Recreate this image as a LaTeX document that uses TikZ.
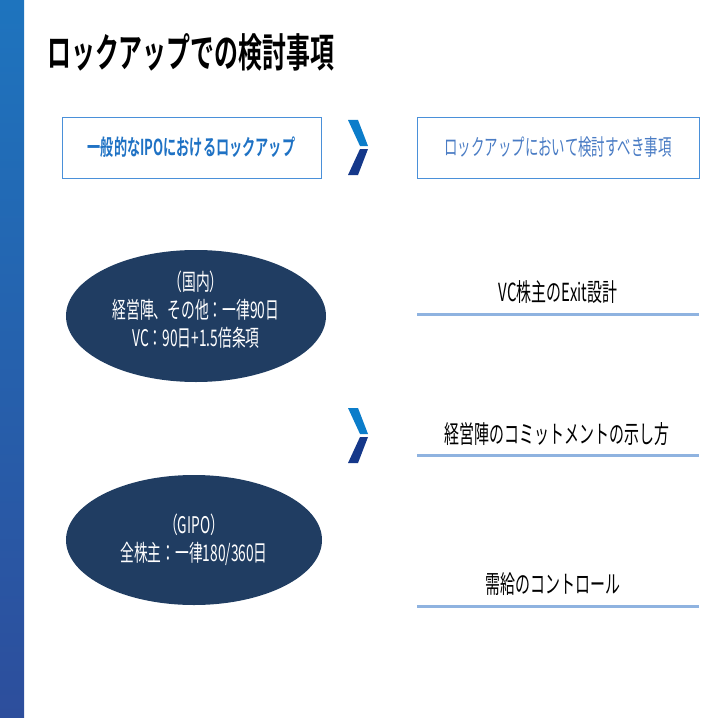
\documentclass[tikz,border=0pt]{standalone}
\usepackage{fontspec}
\usetikzlibrary{shapes.geometric}
\newfontfamily\jpfont[FakeStretch=0.6,BoldFont={Noto Sans CJK JP Bold}]{Noto Sans CJK JP}
\definecolor{bartop}{HTML}{1E74BE}
\definecolor{barbot}{HTML}{2D4E9C}
\definecolor{boxline}{HTML}{4A90D9}
\definecolor{headblue}{HTML}{1F72C4}
\definecolor{headblue2}{HTML}{4A7CC4}
\definecolor{ovalfill}{HTML}{203D62}
\definecolor{ruleblue}{HTML}{8FB3E0}
\definecolor{chevtop}{HTML}{0B7DCA}
\definecolor{chevbot}{HTML}{15388A}

\begin{document}
\begin{tikzpicture}[x=1bp, y=-1bp]
	\tikzstyle{every node} = [font=\jpfont, inner sep=0]
	\tikzstyle{headbox} = [draw=boxline, line width=0.8bp, minimum height=61bp]
	\tikzstyle{oval} = [ellipse, fill=ovalfill]
	\tikzstyle{ovaltext} = [text=white, align=center, font=\jpfont\fontsize{23}{28}\selectfont]
	\tikzstyle{item} = [font=\jpfont\fontsize{25}{28}\selectfont]
	\useasboundingbox (0,0) rectangle (718,718);
	\shade [top color=bartop, bottom color=barbot] (0,0) rectangle (24,718);
	% title
	\node (title) [anchor=west, font=\jpfont\bfseries\fontsize{40}{44}\selectfont] at (47,52) {ロックアップでの検討事項};
	% headers
	\node (ipo) [headbox, minimum width=259bp, text=headblue, font=\jpfont\bfseries\fontsize{22}{26}\selectfont] at (191.5,147.5) {一般的なIPOにおけるロックアップ};
	\node (check) [headbox, minimum width=282bp, text=headblue2, font=\jpfont\fontsize{22.5}{26}\selectfont] at (558,147.5) {ロックアップにおいて検討すべき事項};
	% chevrons
	\foreach \y in {120, 408} {
		\fill [chevtop] (348,\y) -- (358,\y) -- (368,\y+26) -- (360,\y+26) -- cycle;
		\fill [chevbot] (360,\y+29) -- (368,\y+29) -- (358,\y+55) -- (348,\y+55) -- cycle;
	}
	% ovals
	\node (domestic) [oval, minimum width=260bp, minimum height=132bp] at (196,316) {};
	\node (domestictext) [ovaltext] at ([yshift=6bp]domestic.center) {（国内）\\経営陣、その他：一律90日\\VC：90日+1.5倍条項};
	\node (gipo) [oval, minimum width=256bp, minimum height=130bp] at (194,540) {};
	\node (gipotext) [ovaltext] at (gipo.center) {（GIPO）\\全株主：一律180/360日};
	% items
	\node (exit) [item] at (558,292) {VC株主のExit設計};
	\node (commit) [item] at (557,434) {経営陣のコミットメントの示し方};
	\node (supply) [item] at (553,584) {需給のコントロール};
	\foreach \y in {314, 455, 606}
		\draw [ruleblue, line width=3bp] (417,\y) -- (699,\y);
\end{tikzpicture}
\end{document}
